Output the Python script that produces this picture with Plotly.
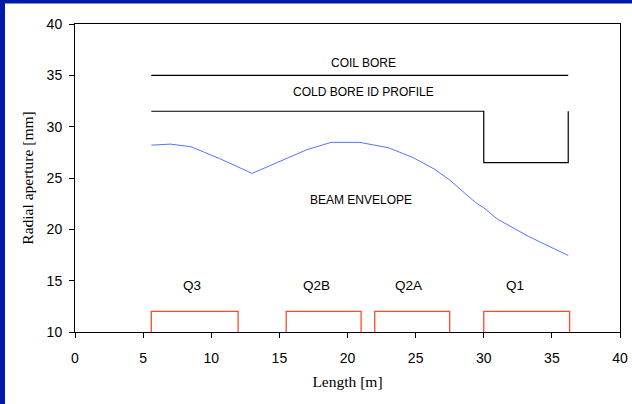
import plotly.graph_objects as go

# Beam envelope along the triplet (length in m, radius in mm)
envelope_s = [5.6, 7.0, 8.5, 10.6, 13.0, 15.0, 17.0, 18.8, 20.9, 23.0, 24.8,
              26.4, 27.5, 28.8, 29.4, 30.0, 31.0, 33.3, 36.2]
envelope_r = [28.2, 28.3, 28.05, 26.9, 25.45, 26.6, 27.75, 28.47, 28.47, 27.95,
              27.0, 25.85, 24.8, 23.3, 22.6, 22.1, 21.0, 19.3, 17.45]

# Coil bore radius
coil_s = [5.6, 36.2]
coil_r = [35.0, 35.0]

# Cold bore inner-diameter profile
cold_s = [5.6, 30.0, 30.0, 36.2, 36.2]
cold_r = [31.5, 31.5, 26.5, 26.5, 31.5]

# Quadrupole magnets
quad_names = ["Q3", "Q2B", "Q2A", "Q1"]
quad_start = [5.6, 15.5, 22.0, 30.0]
quad_end = [11.97, 21.0, 27.5, 36.3]
quad_top = 12.0
quad_base = 10.0
quad_label_s = [8.6, 17.7, 24.45, 32.3]
quad_label_r = 14.5

x_ticks = [0, 5, 10, 15, 20, 25, 30, 35, 40]
y_ticks = [10, 15, 20, 25, 30, 35, 40]

fig = go.Figure()

qx, qy = [], []
for s0, s1 in zip(quad_start, quad_end):
    qx += [s0, s0, s1, s1, None]
    qy += [quad_base, quad_top, quad_top, quad_base, None]
fig.add_trace(go.Scatter(x=qx, y=qy, mode="lines",
                         line=dict(color="#FF4A2A", width=1.3),
                         hoverinfo="skip", showlegend=False))

fig.add_trace(go.Scatter(x=coil_s, y=coil_r, mode="lines",
                         line=dict(color="black", width=1.2), showlegend=False))
fig.add_trace(go.Scatter(x=cold_s, y=cold_r, mode="lines",
                         line=dict(color="black", width=1.2), showlegend=False))
fig.add_trace(go.Scatter(x=envelope_s, y=envelope_r, mode="lines",
                         line=dict(color="#5474FF", width=1), showlegend=False))

label_font = dict(family="Liberation Sans, Arial, sans-serif", size=12, color="black")
fig.add_annotation(x=21.2, y=36.2, text="COIL BORE", showarrow=False, font=label_font)
fig.add_annotation(x=21.2, y=33.4, text="COLD BORE ID PROFILE", showarrow=False, font=label_font)
fig.add_annotation(x=21.0, y=22.85, text="BEAM ENVELOPE", showarrow=False, font=label_font)
for name, s in zip(quad_names, quad_label_s):
    fig.add_annotation(x=s, y=quad_label_r, text=name, showarrow=False,
                       font=dict(family="Liberation Sans, Arial, sans-serif", size=13.5, color="black"))

# Blue frame along the left and top edges of the page
blue = "#0019A8"
fig.add_shape(type="rect", xref="paper", yref="paper", xsizemode="pixel", ysizemode="pixel",
              xanchor=0, yanchor=0, x0=-76, x1=-70, y0=-80, y1=400,
              fillcolor=blue, line_width=0, layer="above")
fig.add_shape(type="rect", xref="paper", yref="paper", xsizemode="pixel", ysizemode="pixel",
              xanchor=0, yanchor=1, x0=-80, x1=600, y0=20.5, y1=40,
              fillcolor=blue, line_width=0, layer="above")

tick_font = dict(family="Liberation Sans, Arial, sans-serif", size=14, color="black")
title_font = dict(family="Liberation Serif, Times New Roman, serif", size=15.5, color="black")

fig.update_layout(
    width=632, height=404,
    margin=dict(l=75, r=12, t=24, b=72),
    paper_bgcolor="white", plot_bgcolor="white",
    xaxis=dict(range=[0, 40], tickvals=x_ticks, ticks="outside", ticklen=5,
               tickcolor="black", showline=True, linecolor="black", linewidth=1,
               mirror=True, showgrid=False, zeroline=False, tickfont=tick_font,
               ticklabelstandoff=8, automargin=False,
               title=dict(text="Length [m]", font=title_font, standoff=11)),
    yaxis=dict(range=[10, 40], tickvals=y_ticks, ticks="outside", ticklen=5,
               tickcolor="black", showline=True, linecolor="black", linewidth=1,
               mirror=True, showgrid=False, zeroline=False, tickfont=tick_font,
               ticklabelstandoff=4, automargin=False,
               title=dict(text="Radial aperture [mm]", font=title_font, standoff=9)),
)

fig.write_html("out.html")
